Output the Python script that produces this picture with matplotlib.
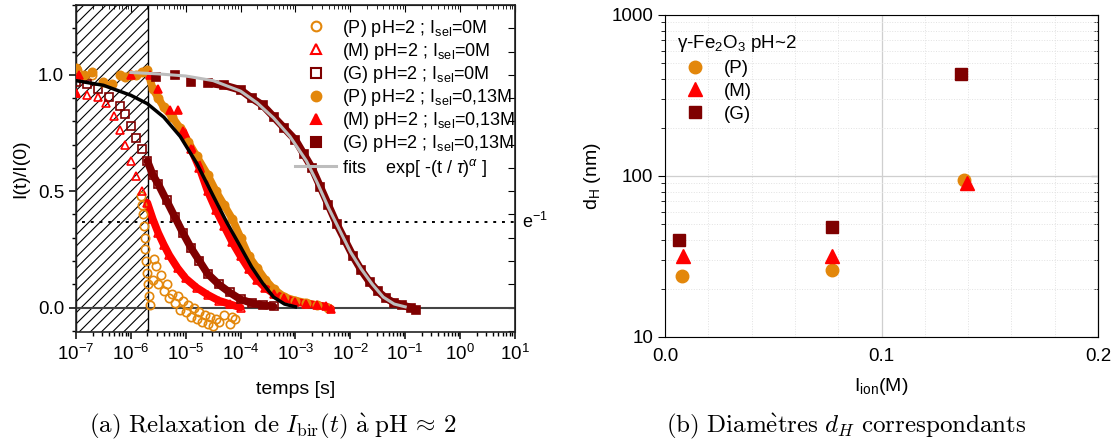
import numpy as np
import matplotlib
matplotlib.use('Agg')
import matplotlib.pyplot as plt
from matplotlib.patches import Rectangle
from matplotlib.lines import Line2D
from matplotlib.ticker import MultipleLocator, FixedLocator, FixedFormatter

plt.rcParams['font.family'] = ['Liberation Sans', 'DejaVu Sans']
plt.rcParams['mathtext.fontset'] = 'custom'
plt.rcParams['mathtext.rm'] = 'Liberation Sans'
plt.rcParams['mathtext.it'] = 'Liberation Sans:italic'
plt.rcParams['mathtext.sf'] = 'Liberation Sans'
plt.rcParams['hatch.linewidth'] = 0.8

orange = '#E3870B'
red = '#FF0000'
wine = '#7F0000'

# ---- (a) relaxation data: log10(t/s) and I(t)/I(0)
lt_p0 = [-6.98, -6.70, -5.82, -5.80, -5.78, -5.76, -5.75, -5.74, -5.72, -5.71, -5.69, -5.67, -5.65,
         -5.60, -5.57, -5.54, -5.50, -5.45, -5.40, -5.35, -5.30, -5.25, -5.20, -5.15, -5.10, -5.05, -5.00,
         -4.95, -4.90, -4.85, -4.80, -4.75, -4.70, -4.65, -4.60, -4.55, -4.50, -4.45, -4.40,
         -4.30, -4.20, -4.15, -4.10]
y_p0 = [1.02, 1.00, 0.48, 0.44, 0.40, 0.35, 0.30, 0.25, 0.20, 0.15, 0.10, 0.05, 0.01,
        0.12, 0.21, 0.18, 0.10, 0.14, 0.07, 0.10, 0.04, 0.06, 0.02, 0.05, -0.01, 0.03, -0.02,
        0.01, -0.04, 0.00, -0.05, -0.02, -0.06, -0.03, -0.07, -0.04, -0.08, -0.05, -0.06,
        -0.03, -0.07, -0.04, -0.05]

lt_m0 = [-7.00, -6.80, -6.60, -6.45, -6.30, -6.20, -6.10, -6.00, -5.90, -5.80, -5.70,
         -5.60, -5.50, -5.40, -5.30, -5.15, -5.00, -4.80, -4.60, -4.40, -4.20, -4.00]
y_m0 = [0.92, 0.915, 0.905, 0.88, 0.825, 0.765, 0.70, 0.63, 0.565, 0.50, 0.45,
        0.38, 0.32, 0.27, 0.225, 0.17, 0.125, 0.085, 0.055, 0.03, 0.015, 0.0]

lt_g0 = [-7.00, -6.80, -6.60, -6.40, -6.20, -6.10, -6.00, -5.90, -5.80, -5.70, -5.60, -5.50,
         -5.35, -5.20, -5.05, -4.90, -4.75, -4.60, -4.40, -4.20, -4.00, -3.80, -3.60, -3.40]
y_g0 = [0.97, 0.96, 0.94, 0.905, 0.865, 0.83, 0.78, 0.73, 0.68, 0.63, 0.57, 0.53,
        0.46, 0.39, 0.32, 0.255, 0.20, 0.145, 0.10, 0.065, 0.035, 0.02, 0.01, 0.005]

lt_p13 = [-7.00, -6.85, -6.70, -6.50, -6.35, -6.20, -6.10, -6.00, -5.90, -5.80, -5.70, -5.60,
          -5.50, -5.40, -5.25, -5.10, -4.95, -4.80, -4.60, -4.45, -4.30, -4.15, -4.00, -3.85,
          -3.70, -3.55, -3.40, -3.20, -3.00, -2.80, -2.60, -2.40]
y_p13 = [1.03, 1.00, 1.01, 0.97, 0.96, 1.00, 0.99, 1.00, 1.00, 1.01, 1.02, 0.94,
         0.90, 0.86, 0.82, 0.77, 0.71, 0.65, 0.57, 0.50, 0.44, 0.38, 0.30, 0.22,
         0.17, 0.12, 0.08, 0.045, 0.03, 0.02, 0.01, 0.00]

lt_m13 = [-7.00, -6.95, -5.99, -5.65, -5.50, -5.28, -5.15, -5.05, -4.90, -4.75, -4.60, -4.45,
          -4.30, -4.15, -4.00, -3.85, -3.70, -3.55, -3.40, -3.20, -3.00, -2.80, -2.60, -2.45, -2.35]
y_m13 = [0.92, 1.00, 1.00, 1.00, 0.94, 0.85, 0.85, 0.76, 0.68, 0.60, 0.50, 0.42,
         0.35, 0.28, 0.22, 0.165, 0.12, 0.085, 0.06, 0.04, 0.025, 0.017, 0.01, 0.005, -0.005]

lt_g13 = [-5.55, -5.20, -4.90, -4.60, -4.30, -4.00, -3.80, -3.60, -3.40, -3.20, -3.00, -2.85, -2.70,
          -2.55, -2.40, -2.25, -2.10, -1.95, -1.80, -1.65, -1.50, -1.35, -1.20, -1.05, -0.90, -0.80]
y_g13 = [0.99, 1.00, 0.97, 0.965, 0.955, 0.935, 0.90, 0.87, 0.82, 0.77, 0.72, 0.66, 0.60,
         0.52, 0.44, 0.36, 0.29, 0.22, 0.16, 0.11, 0.07, 0.04, 0.02, 0.01, 0.00, -0.01]

# fitted curves exp[-(t/tau)^alpha]
lt_fit_pm = [-7.0, -6.5, -6.0, -5.7, -5.4, -5.1, -4.8, -4.5, -4.25, -4.0, -3.8, -3.6, -3.4, -3.2, -3.0]
y_fit_pm = [0.975, 0.955, 0.912, 0.876, 0.818, 0.735, 0.62, 0.48, 0.365, 0.26, 0.175, 0.105, 0.045, 0.015, 0.003]
lt_fit_g = [-6.0, -5.5, -5.0, -4.5, -4.0, -3.7, -3.4, -3.1, -2.8, -2.6, -2.4, -2.2, -2.0, -1.8, -1.6, -1.4, -1.2, -1.0]
y_fit_g = [1.01, 1.004, 0.995, 0.975, 0.93, 0.88, 0.815, 0.735, 0.63, 0.535, 0.43, 0.335, 0.24, 0.165, 0.10, 0.045, 0.015, 0.003]

t_hatch = 2.07e-6

# ---- (b) hydrodynamic diameters
ion_P = [0.0077, 0.077, 0.138]
ion_M = [0.0085, 0.077, 0.1394]
ion_G = [0.0065, 0.077, 0.1365]
dH_P = [24, 26, 95]
dH_M = [32, 32, 90]
dH_G = [40, 48, 430]

fig = plt.figure(figsize=(11.11, 4.47), dpi=100)
ax1 = fig.add_axes([0.0684, 0.2573, 0.3951, 0.7315])
ax2 = fig.add_axes([0.5986, 0.2461, 0.3897, 0.7204])

# hatched region (dead time of the setup)
ax1.add_patch(Rectangle((1e-7, -0.2), t_hatch - 1e-7, 1.6, facecolor='white', edgecolor='black',
                        hatch='///', lw=1.0, zorder=0))
ax1.axhline(0, color='#444444', lw=1.5, zorder=1)
ax1.plot([1.3e-7, 10], [np.exp(-1), np.exp(-1)], color='black', ls=(0, (1.5, 3)), lw=1.4, zorder=1)

series = [
    (lt_p0, y_p0, orange, 'o', True, None, r'(P) pH=2 ; I$_{\rm sel}$=0M'),
    (lt_m0, y_m0, red, '^', True, -5.7, r'(M) pH=2 ; I$_{\rm sel}$=0M'),
    (lt_g0, y_g0, wine, 's', True, -5.7, r'(G) pH=2 ; I$_{\rm sel}$=0M'),
    (lt_p13, y_p13, orange, 'o', False, -5.7, r'(P) pH=2 ; I$_{\rm sel}$=0,13M'),
    (lt_m13, y_m13, red, '^', False, -5.1, r'(M) pH=2 ; I$_{\rm sel}$=0,13M'),
    (lt_g13, y_g13, wine, 's', False, -4.8, r'(G) pH=2 ; I$_{\rm sel}$=0,13M'),
]
handles = []
for lt, y, c, m, hollow, band_from, lab in series:
    t = 10 ** np.array(lt)
    y = np.array(y)
    if band_from is not None:
        keep = np.array(lt) >= band_from
        ax1.plot(t[keep], y[keep], color=c, lw=5.5, solid_capstyle='round', zorder=2)
    fc = 'none' if hollow else c
    ax1.plot(t, y, ls='none', marker=m, ms=6, mfc=fc, mec=c, mew=1.2, zorder=3)
    handles.append(Line2D([], [], ls='none', marker=m, ms=7, mfc=fc, mec=c, mew=1.5, label=lab))

ax1.plot(10 ** np.array(lt_fit_pm), y_fit_pm, color='black', lw=2.5, zorder=4)
ax1.plot(10 ** np.array(lt_fit_g), y_fit_g, color='#BDBDBD', lw=2.2, zorder=4)
handles.append(Line2D([], [], color='#BDBDBD', lw=2.2, label=r'fits    exp[ -(t / $\tau$)$^{\alpha}$ ]'))

ax1.set_xscale('log')
ax1.set_xlim(1e-7, 10)
ax1.set_ylim(-0.105, 1.3)
ax1.xaxis.set_major_locator(matplotlib.ticker.LogLocator(base=10, numticks=20))
ax1.xaxis.set_minor_locator(matplotlib.ticker.LogLocator(base=10, subs=np.arange(2, 10), numticks=20))
ax1.xaxis.set_minor_formatter(matplotlib.ticker.NullFormatter())
ax1.yaxis.set_major_locator(FixedLocator([0, 0.5, 1.0]))
ax1.yaxis.set_major_formatter(FixedFormatter(['0.0', '0.5', '1.0']))
ax1.yaxis.set_minor_locator(MultipleLocator(0.1))
ax1.tick_params(which='major', direction='out', length=5, width=1.1, labelsize=13.5)
ax1.tick_params(which='minor', direction='out', length=3, width=1.0)
for s in ax1.spines.values():
    s.set_linewidth(1.2)
    s.set_color('#222222')

top1 = ax1.secondary_xaxis('top')
top1.xaxis.set_major_locator(matplotlib.ticker.LogLocator(base=10, numticks=20))
top1.xaxis.set_minor_locator(matplotlib.ticker.LogLocator(base=10, subs=np.arange(2, 10), numticks=20))
top1.tick_params(which='both', direction='in', labeltop=False)
top1.tick_params(which='major', length=5)
top1.tick_params(which='minor', length=3)
right1 = ax1.secondary_yaxis('right')
right1.yaxis.set_major_locator(MultipleLocator(0.1))
right1.tick_params(which='both', direction='in', labelright=False, length=5)

ax1.set_xlabel('temps [s]', fontsize=14, labelpad=12)
ax1.set_ylabel('I(t)/I(0)', fontsize=14, labelpad=6)
ax1.text(1.015, np.exp(-1), r'e$^{-1}$', transform=ax1.get_yaxis_transform(), fontsize=13,
         va='center', ha='left')
ax1.legend(handles=handles, loc='upper left', bbox_to_anchor=(0.47, 1.0), frameon=False,
           fontsize=13, handlelength=2.3, handletextpad=0.3, labelspacing=0.12, borderpad=0.2)

# ---- (b)
ax2.set_yscale('log')
ax2.set_xlim(0, 0.2)
ax2.set_ylim(10, 1000)
ax2.xaxis.set_major_locator(FixedLocator([0, 0.1, 0.2]))
ax2.xaxis.set_major_formatter(FixedFormatter(['0.0', '0.1', '0.2']))
ax2.xaxis.set_minor_locator(MultipleLocator(0.02))
ax2.yaxis.set_major_locator(FixedLocator([10, 100, 1000]))
ax2.yaxis.set_major_formatter(FixedFormatter(['10', '100', '1000']))
ax2.yaxis.set_minor_formatter(matplotlib.ticker.NullFormatter())
ax2.grid(True, which='major', color='#CFCFCF', lw=0.9, ls='-')
ax2.grid(True, which='minor', color='#E2E2E2', lw=0.7, ls=':')
ax2.set_axisbelow(True)
ax2.tick_params(axis='y', which='major', direction='out', length=5, labelsize=13.5)
ax2.tick_params(axis='y', which='minor', direction='out', length=3)
ax2.tick_params(axis='x', which='both', direction='in', length=0, labelsize=13.5, pad=8)
right2 = ax2.secondary_yaxis('right')
right2.yaxis.set_major_locator(FixedLocator([10, 100, 1000]))
right2.tick_params(which='both', direction='in', labelright=False)
right2.tick_params(which='major', length=5)
right2.tick_params(which='minor', length=3)

ax2.plot(ion_P, dH_P, ls='none', marker='o', ms=9, color=orange, label='(P)')
ax2.plot(ion_M, dH_M, ls='none', marker='^', ms=10, color=red, label='(M)')
ax2.plot(ion_G, dH_G, ls='none', marker='s', ms=8, color=wine, label='(G)')
ax2.legend(loc='upper left', bbox_to_anchor=(-0.012, 0.995), frameon=False, fontsize=13.5,
           title='γ-Fe$_2$O$_3$ pH~2', title_fontsize=13.5, alignment='left',
           handlelength=2.0, handletextpad=0.5, labelspacing=0.3, numpoints=1)
ax2.set_xlabel(r'I$_{\rm ion}$(M)', fontsize=14, labelpad=8)
ax2.set_ylabel(r'd$_{\rm H}$ (nm)', fontsize=14, labelpad=6)

# captions
fig.text(0.245, 0.045, r'$\mathrm{(a)\ Relaxation\ de\ }I_{\mathrm{bir}}(t)\ \grave{\mathrm{a}}\ \mathrm{pH}\,\approx\,2$',
         math_fontfamily='cm', fontsize=18, ha='center', va='center')
fig.text(0.762, 0.045, r'$\mathrm{(b)\ Diam}\grave{\mathrm{e}}\mathrm{tres\ }d_H\mathrm{\ correspondants}$',
         math_fontfamily='cm', fontsize=18, ha='center', va='center')

fig.savefig('out.png', dpi=100)
